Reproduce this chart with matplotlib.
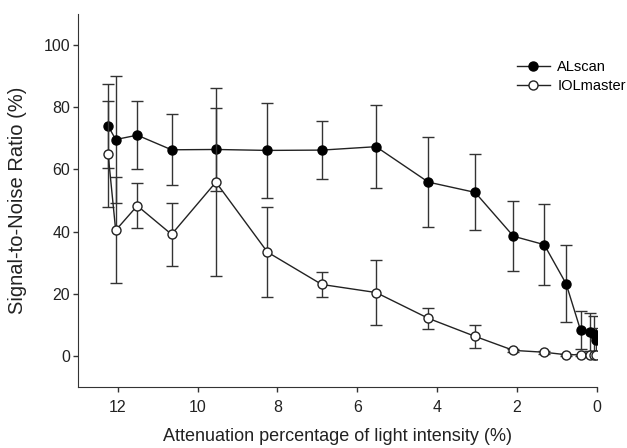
import matplotlib.pyplot as plt

plt.rcParams['font.family'] = ['Liberation Sans', 'DejaVu Sans']

# attenuation (%) and signal-to-noise ratio (%)
atten = [12.24, 12.05, 11.51, 10.65, 9.54, 8.25, 6.89, 5.53, 4.22, 3.05,
         2.09, 1.32, 0.77, 0.41, 0.18, 0.07, 0.02]
alscan = [74.0, 69.6, 71.0, 66.3, 66.4, 66.1, 66.2, 67.3, 55.9, 52.6,
          38.5, 35.8, 23.2, 8.3, 7.7, 7.2, 5.0]
alscan_sd = [13.5, 20.4, 11.0, 11.4, 13.3, 15.3, 9.3, 13.3, 14.5, 12.2,
             11.2, 13.0, 12.4, 6.2, 6.0, 5.7, 4.1]
iol = [65.0, 40.4, 48.3, 39.1, 55.9, 33.4, 23.0, 20.4, 12.1, 6.3,
       1.8, 1.2, 0.4, 0.4, 0.3, 0.3, 0.3]
iol_sd = [17.0, 17.0, 7.3, 10.2, 30.2, 14.4, 3.9, 10.6, 3.4, 3.6,
          0.5, 0.5, 0.3, 0.3, 0.2, 0.2, 0.2]

fig = plt.figure(figsize=(6.27, 4.48), dpi=100)
ax = fig.add_axes([0.124, 0.136, 0.828, 0.833])

c = '#222222'
ax.errorbar(atten, alscan, yerr=alscan_sd, fmt='-o', color=c, ecolor='#333333',
            mfc='black', mec='black', ms=6.5, lw=1, elinewidth=1, capsize=4.5,
            capthick=1, label='ALscan', zorder=2)
ax.errorbar(atten, iol, yerr=iol_sd, fmt='-o', color=c, ecolor='#333333',
            mfc='white', mec=c, ms=6.5, lw=1, elinewidth=1, capsize=4.5,
            capthick=1, label='IOLmaster', zorder=3)

ax.set_xlim(13, 0)
ax.set_ylim(-10, 110)
ax.set_xticks([12, 10, 8, 6, 4, 2, 0])
ax.set_yticks([0, 20, 40, 60, 80, 100])
ax.spines['top'].set_visible(False)
ax.spines['right'].set_visible(False)
for s in ax.spines.values():
    s.set_color('#333333')
ax.tick_params(direction='out', length=3.5, width=1, colors='#333333',
               labelsize=11.5, labelcolor='#222222')
ax.tick_params(axis='x', pad=6)
ax.tick_params(axis='y', pad=2)

ax.set_xlabel('Attenuation percentage of light intensity (%)', fontsize=13,
              color='#222222')
ax.set_ylabel('Signal-to-Noise Ratio (%)', fontsize=14.5, color='#222222')
ax.xaxis.set_label_coords(0.5, -0.11)
ax.yaxis.set_label_coords(-0.098, 0.5)

h, l = ax.get_legend_handles_labels()
h = [x[0] for x in h]
fig.legend(h, l, loc='upper left', bbox_to_anchor=(0.8246, 0.865), frameon=False,
           fontsize=10.5, handlelength=2.25, handletextpad=0.5, labelspacing=0.34,
           borderpad=0, borderaxespad=0)

fig.savefig('out.png', dpi=100)
